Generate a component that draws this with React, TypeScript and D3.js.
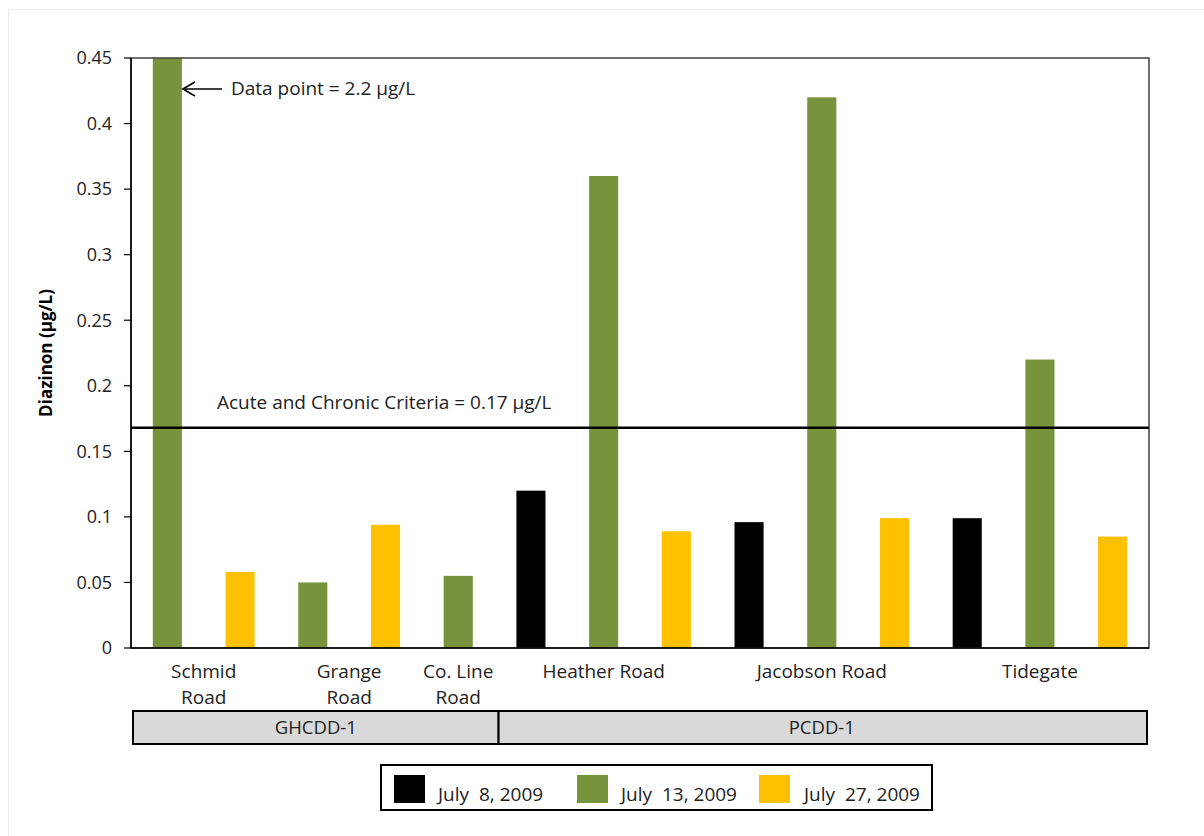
import React from "react";
import * as d3 from "d3";

const sites = ["Schmid Road", "Grange Road", "Co. Line Road", "Heather Road", "Jacobson Road", "Tidegate"];
const siteLabelLines = [["Schmid", "Road"], ["Grange", "Road"], ["Co. Line", "Road"], ["Heather Road"], ["Jacobson Road"], ["Tidegate"]];
const siteDistrict = ["GHCDD-1", "GHCDD-1", "GHCDD-1", "PCDD-1", "PCDD-1", "PCDD-1"];
const districts = ["GHCDD-1", "PCDD-1"];
const seriesNames = ["July  8, 2009", "July  13, 2009", "July  27, 2009"];
const july8 = [null, null, null, 0.12, 0.096, 0.099];
const july13 = [2.2, 0.05, 0.055, 0.36, 0.42, 0.22];
const july27 = [0.058, 0.094, null, 0.089, 0.099, 0.085];
const yTicks = [0, 0.05, 0.1, 0.15, 0.2, 0.25, 0.3, 0.35, 0.4, 0.45];
const criteriaValue = 0.168;
const criteriaLabel = "Acute and Chronic Criteria = 0.17 \u00b5g/L";
const annotationLabel = "Data point = 2.2 \u00b5g/L";
const yTitle = "Diazinon (\u00b5g/L)";

const colors = ["#000000", "#77933c", "#ffc000"];
const FONT = "'Open Sans', Lato, sans-serif";

export default function App() {
  const seriesVals = [july8, july13, july27];
  const slots: { site: number; series: number; value: number; key: string }[] = [];
  sites.forEach((s, i) => {
    seriesVals.forEach((arr, j) => {
      const v = arr[i];
      if (v !== null && v !== undefined) slots.push({ site: i, series: j, value: v as number, key: `${i}-${j}` });
    });
  });

  const left = 131, right = 1149, top = 58, bottom = 648;
  const x = d3.scaleBand<string>().domain(slots.map((d) => d.key)).range([left, right]).paddingInner(0.6).paddingOuter(0.3);
  const y = d3.scaleLinear().domain([0, 0.45]).range([bottom, top]).clamp(true);
  const step = x.step();
  const bw = x.bandwidth();
  const slotStart = (k: string) => (x(k) as number) - (step - bw) / 2;
  const slotCenter = (k: string) => (x(k) as number) + bw / 2;

  const siteCenters = sites.map((_, i) => {
    const ks = slots.filter((s) => s.site === i).map((s) => slotCenter(s.key));
    return d3.mean(ks) as number;
  });

  const districtBoxes = districts.map((dn) => {
    const ks = slots.filter((s) => siteDistrict[s.site] === dn);
    const x0 = slotStart(ks[0].key);
    const x1 = slotStart(ks[ks.length - 1].key) + step;
    return { name: dn, x0, x1 };
  });

  const schmidKey = slots.find((s) => s.site === 0 && s.series === 1)!.key;
  const arrowY = 89;

  const legendX = [394, 577, 759];
  const legendTextX = [438, 621, 804];

  return (
    <svg width={1204} height={836} style={{ position: "absolute", left: 0, top: 0 }} fontFamily={FONT}>
      <rect x={0} y={0} width={1204} height={836} fill="#fff" />
      <rect x={8.5} y={9.5} width={1210} height={840} fill="none" stroke="#ececec" strokeWidth={1} />

      {/* bars */}
      {slots.map((s) => (
        <rect key={s.key} x={x(s.key)} y={y(s.value)} width={bw} height={bottom - y(s.value)} fill={colors[s.series]} />
      ))}

      {/* plot frame */}
      <rect x={left} y={top} width={right - left} height={bottom - top} fill="none" stroke="#404040" strokeWidth={1.5} />
      <line x1={left} x2={left} y1={top} y2={bottom} stroke="#000" strokeWidth={1.5} />
      <line x1={left} x2={right} y1={bottom} y2={bottom} stroke="#000" strokeWidth={1.5} />

      {/* y ticks */}
      {yTicks.map((t) => (
        <g key={t}>
          <line x1={124} x2={left} y1={y(t)} y2={y(t)} stroke="#000" strokeWidth={1.2} />
          <text x={112} y={y(t)} dy="0.35em" textAnchor="end" fontSize={18} fill="#222">
            {d3.format("")(+t.toFixed(2))}
          </text>
        </g>
      ))}

      <text transform={`translate(52,${(top + bottom) / 2}) rotate(-90)`} textAnchor="middle" fontSize={17} fontWeight="bold" fill="#000">
        {yTitle}
      </text>

      {/* criteria line */}
      <line x1={left} x2={right} y1={y(criteriaValue)} y2={y(criteriaValue)} stroke="#000" strokeWidth={2.5} />
      <text x={217} y={409} fontSize={19} fill="#222">{criteriaLabel}</text>

      {/* annotation */}
      {(() => {
        const tip = (x(schmidKey) as number) + bw + 1;
        return (
          <g stroke="#000" strokeWidth={1.6} fill="none">
            <line x1={222} x2={tip} y1={arrowY} y2={arrowY} />
            <path d={`M${tip + 12},${arrowY - 7} L${tip},${arrowY} L${tip + 12},${arrowY + 7}`} />
          </g>
        );
      })()}
      <text x={231} y={95} fontSize={19} fill="#222">{annotationLabel}</text>

      {/* category labels */}
      {siteLabelLines.map((lines, i) => (
        <text key={i} textAnchor="middle" fontSize={19} fill="#222">
          {lines.map((ln, j) => (
            <tspan key={j} x={siteCenters[i]} y={678 + j * 26}>{ln}</tspan>
          ))}
        </text>
      ))}

      {/* district boxes */}
      {districtBoxes.map((b, i) => (
        <g key={b.name}>
          <rect x={i === 0 ? b.x0 + 2 : b.x0 + 4} y={711} width={i === 0 ? b.x1 - b.x0 + 2 : b.x1 - b.x0 - 6} height={33} fill="#d9d9d9" stroke="#000" strokeWidth={2} />
          <text x={(b.x0 + b.x1) / 2 + (i === 0 ? 3 : 0)} y={734} textAnchor="middle" fontSize={18.5} fill="#222">{b.name}</text>
        </g>
      ))}

      {/* legend */}
      <rect x={381} y={765} width={551} height={45} fill="#fff" stroke="#000" strokeWidth={2} />
      {seriesNames.map((n, i) => (
        <g key={n}>
          <rect x={legendX[i]} y={775} width={31} height={28} fill={colors[i]} />
          <text x={legendTextX[i]} y={801} fontSize={19} fill="#222" style={{ whiteSpace: "pre" }}>{n}</text>
        </g>
      ))}
    </svg>
  );
}
